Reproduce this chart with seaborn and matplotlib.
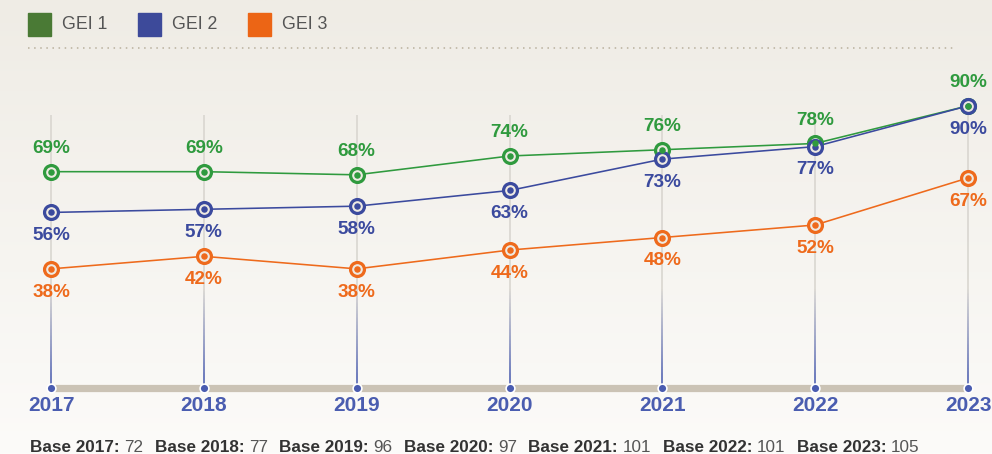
import numpy as np
import pandas as pd
import matplotlib
matplotlib.use("Agg")
import matplotlib.pyplot as plt
from matplotlib.collections import LineCollection
from matplotlib.patches import Rectangle
from matplotlib.colors import to_rgb
import seaborn as sns

# ---- data ----
years = ["2017", "2018", "2019", "2020", "2021", "2022", "2023"]
series_names = ["GEI 1", "GEI 2", "GEI 3"]
gei1 = [69, 69, 68, 74, 76, 78, 90]
gei2 = [56, 57, 58, 63, 73, 77, 90]
gei3 = [38, 42, 38, 44, 48, 52, 67]
bases = [72, 77, 96, 97, 101, 101, 105]

line_colors = {"GEI 1": "#2f9a3e", "GEI 2": "#3b4a9e", "GEI 3": "#ee6a1c"}
legend_colors = {"GEI 1": "#4a7a35", "GEI 2": "#3d4a9a", "GEI 3": "#ec6515"}
label_side = {"GEI 1": 1, "GEI 2": -1, "GEI 3": -1}

df = pd.DataFrame({
    "x": list(range(len(years))) * 3,
    "value": gei1 + gei2 + gei3,
    "series": [s for s in series_names for _ in years],
})

sns.set_theme(style="white")
plt.rcParams["font.family"] = ["Liberation Sans", "DejaVu Sans"]

W, H = 992, 454
fig = plt.figure(figsize=(W / 100, H / 100), dpi=100)
ax = fig.add_axes([0, 0, 1, 1])
ax.set_xlim(-0.3337, 6.157)
ax.set_ylim(-21.05, 123.76)
ax.axis("off")

# soft vertical background gradient
top_c = np.array(to_rgb("#efece5"))
bot_c = np.array(to_rgb("#fcfbf9"))
t = np.linspace(0, 1, 256)[:, None]
grad = top_c[None, :] * (1 - t) + bot_c[None, :] * t
ax.imshow(grad[:, None, :].repeat(2, axis=1), extent=[0, 1, 0, 1],
          transform=ax.transAxes, aspect="auto", zorder=0)

def fx(px):
    return px / W

def fy(py):
    return 1 - py / H

# legend row
lx = [28, 138, 248]
for name, x0 in zip(series_names, lx):
    fig.patches.append(Rectangle((fx(x0), fy(36)), 23 / W, 23 / H,
                                 transform=fig.transFigure,
                                 color=legend_colors[name], zorder=3))
    fig.text(fx(x0 + 34), fy(24.5), name, fontsize=12.8, color="#555555",
             va="center", ha="left")
fig.add_artist(plt.Line2D([fx(28), fx(955)], [fy(48), fy(48)],
                          transform=fig.transFigure, color="#b8b09c",
                          lw=1.1, linestyle=(0, (1, 3))))

# vertical guide lines, fading from grey into blue toward the baseline
grey = np.array(to_rgb("#d9d6d0"))
blue = np.array(to_rgb("#5566b3"))
for i in range(len(years)):
    top = max(87, gei1[i], gei2[i])
    ys = np.linspace(top, 0, 200)
    segs = [[(i, ys[k]), (i, ys[k + 1])] for k in range(len(ys) - 1)]
    cols = []
    for k in range(len(ys) - 1):
        v = ys[k]
        f = np.clip((32 - v) / 28, 0, 1)
        cols.append(grey * (1 - f) + blue * f)
    ax.add_collection(LineCollection(segs, colors=cols, linewidths=1.2, zorder=1))

# baseline bar with year dots
ax.plot([0, len(years) - 1], [0, 0], color="#cbc3b5", lw=5.2,
        solid_capstyle="butt", zorder=2)
ax.scatter(range(len(years)), [0] * len(years), s=40, color="#4a5cb0",
           edgecolor="white", linewidth=1.2, zorder=3)
for i, y in enumerate(years):
    ax.text(i, -5.6, y, ha="center", va="center", fontsize=15,
            fontweight="bold", color="#4a5db0")

# series lines
sns.lineplot(data=df, x="x", y="value", hue="series", palette=line_colors,
             hue_order=series_names, linewidth=1.15, legend=False, ax=ax,
             zorder=4)

# ring markers: all rings first, then the centre dots (GEI 1 last)
for name in series_names:
    sub = df[df["series"] == name]
    ax.scatter(sub["x"], sub["value"], s=100, facecolor="#eeeae2",
               edgecolor=line_colors[name], linewidth=2.3, zorder=5)
for name in ["GEI 3", "GEI 2", "GEI 1"]:
    sub = df[df["series"] == name]
    ax.scatter(sub["x"], sub["value"], s=22, color=line_colors[name],
               linewidth=0, zorder=6)

# value labels
for name in series_names:
    sub = df[df["series"] == name]
    for x, v in zip(sub["x"], sub["value"]):
        ax.annotate(f"{v}%", (x, v), xytext=(0, 16.8 * label_side[name]),
                    textcoords="offset points", ha="center", va="center",
                    fontsize=13.6, fontweight="bold", color=line_colors[name],
                    zorder=7)

# base counts footer
fig.canvas.draw()
renderer = fig.canvas.get_renderer()
xpos = fx(30)
for y, b in zip(years, bases):
    t1 = fig.text(xpos, fy(447), f"Base {y}:", fontsize=12.3,
                  fontweight="bold", color="#333333", va="center", ha="left")
    bb = t1.get_window_extent(renderer)
    xpos = bb.x1 / W + 4.5 / W
    t2 = fig.text(xpos, fy(447), f"{b}", fontsize=12.3, color="#555555",
                  va="center", ha="left")
    bb = t2.get_window_extent(renderer)
    xpos = bb.x1 / W + 11.5 / W

fig.savefig("out.png", dpi=100)
